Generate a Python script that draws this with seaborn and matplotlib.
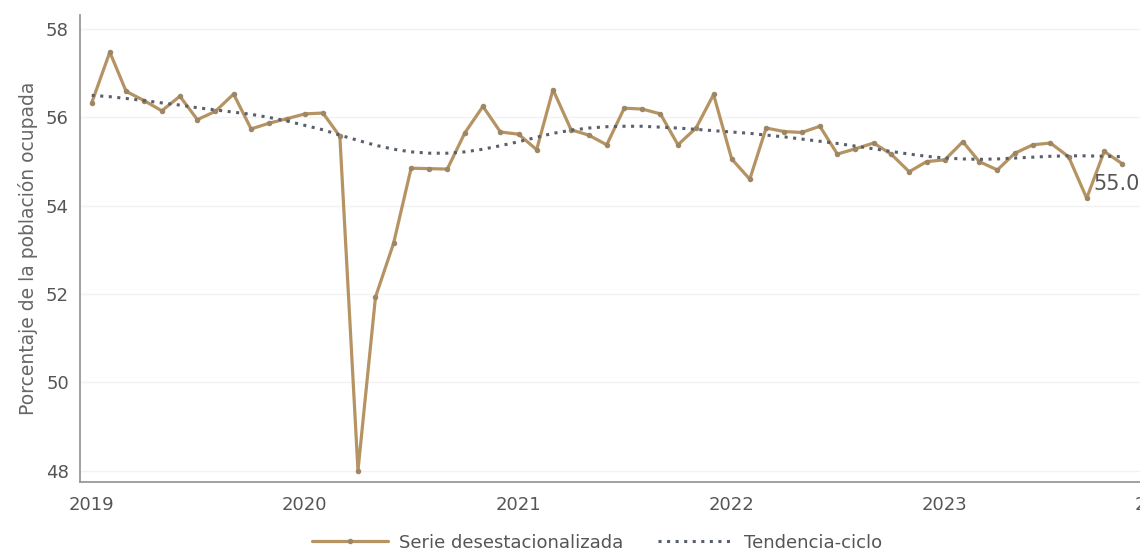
import pandas as pd
import matplotlib
matplotlib.use("Agg")
import matplotlib.pyplot as plt
import matplotlib.dates as mdates
import seaborn as sns

# Periodo: enero 2019 a noviembre 2023 (mensual)
fecha_inicio = "2019-01-01"
n_meses = 59

# Serie desestacionalizada (% de la poblacion ocupada)
serie = [
    56.33, 57.48, 56.59, 56.38, 56.15, 56.48, 55.95, 56.14, 56.53, 55.74, 55.87, 55.97,
    56.08, 56.10, 55.57, 48.00, 51.93, 53.15, 54.85, 54.84, 54.83, 55.65, 56.25, 55.67,
    55.62, 55.27, 56.63, 55.72, 55.60, 55.38, 56.21, 56.19, 56.08, 55.38, 55.76, 56.52,
    55.06, 54.60, 55.76, 55.68, 55.66, 55.80, 55.17, 55.29, 55.42, 55.17, 54.77, 55.00,
    55.04, 55.45, 55.00, 54.81, 55.19, 55.38, 55.42, 55.11, 54.17, 55.23, 54.95,
]

# Tendencia-ciclo
tendencia = [
    56.50, 56.47, 56.43, 56.38, 56.33, 56.28, 56.22, 56.17, 56.12, 56.07, 56.00, 55.92,
    55.82, 55.72, 55.60, 55.48, 55.37, 55.28, 55.22, 55.19, 55.19, 55.22, 55.28, 55.36,
    55.45, 55.55, 55.64, 55.71, 55.76, 55.79, 55.80, 55.80, 55.78, 55.76, 55.73, 55.70,
    55.67, 55.64, 55.60, 55.56, 55.51, 55.46, 55.41, 55.35, 55.29, 55.23, 55.17, 55.12,
    55.08, 55.06, 55.05, 55.06, 55.08, 55.10, 55.12, 55.13, 55.13, 55.12, 55.11,
]

etiqueta_final = "55.0"
yticks = [48, 50, 52, 54, 56, 58]

color_serie = "#b59363"
color_punto = "#9c8665"
color_tend = "#58606c"
color_texto = "#555555"
color_eje = "#999999"

df = pd.DataFrame({
    "fecha": pd.date_range(fecha_inicio, periods=n_meses, freq="MS"),
    "serie": serie,
    "tendencia": tendencia,
})

sns.set_style("white")
plt.rcParams["font.family"] = ["DejaVu Sans"]

fig = plt.figure(figsize=(11.4, 5.59), dpi=100)
ax = fig.add_axes([0.0702, 0.1377, 0.9614, 0.8354])

sns.lineplot(data=df, x="fecha", y="serie", ax=ax, color=color_serie, linewidth=2.3,
             marker="o", markersize=3.2, markerfacecolor=color_punto,
             markeredgecolor=color_punto, label="Serie desestacionalizada", zorder=3)
sns.lineplot(data=df, x="fecha", y="tendencia", ax=ax, color=color_tend, linewidth=2.2,
             linestyle=(0, (1, 1.8)), label="Tendencia-ciclo", zorder=4)

# Etiqueta del ultimo dato
ax.annotate(etiqueta_final, xy=(df["fecha"].iloc[-1], df["serie"].iloc[-1]),
            xytext=(-21, -14.5), textcoords="offset points", fontsize=15,
            color=color_texto, ha="left", va="center", annotation_clip=False)

ax.set_xlim(pd.Timestamp("2018-12-12"), pd.Timestamp("2024-02-01"))
ax.set_ylim(47.74, 58.32)
ax.set_yticks(yticks)
ax.xaxis.set_major_locator(mdates.YearLocator())
ax.xaxis.set_major_formatter(mdates.DateFormatter("%Y"))

ax.grid(axis="y", color="#f2f2f2", linewidth=1)
ax.grid(axis="x", visible=False)
for lado in ["top", "right"]:
    ax.spines[lado].set_visible(False)
for lado in ["left", "bottom"]:
    ax.spines[lado].set_color(color_eje)
    ax.spines[lado].set_linewidth(1.3)

ax.tick_params(axis="both", which="major", length=5, width=1, color=color_eje,
               labelsize=13, labelcolor=color_texto, direction="out")
ax.tick_params(axis="x", pad=5)
ax.tick_params(axis="y", pad=3)
ax.set_xlabel("")
ax.set_ylabel("Porcentaje de la población ocupada", fontsize=13.5, color="#666666", labelpad=6)

ax.get_legend().remove()
handles, labels = ax.get_legend_handles_labels()
fig.legend(handles, labels, loc="center", bbox_to_anchor=(0.524, 0.029), ncol=2,
           frameon=False, fontsize=13, handlelength=4.2, handletextpad=0.6,
           columnspacing=1.9, labelcolor=color_texto)

fig.savefig("out.png", dpi=100)
